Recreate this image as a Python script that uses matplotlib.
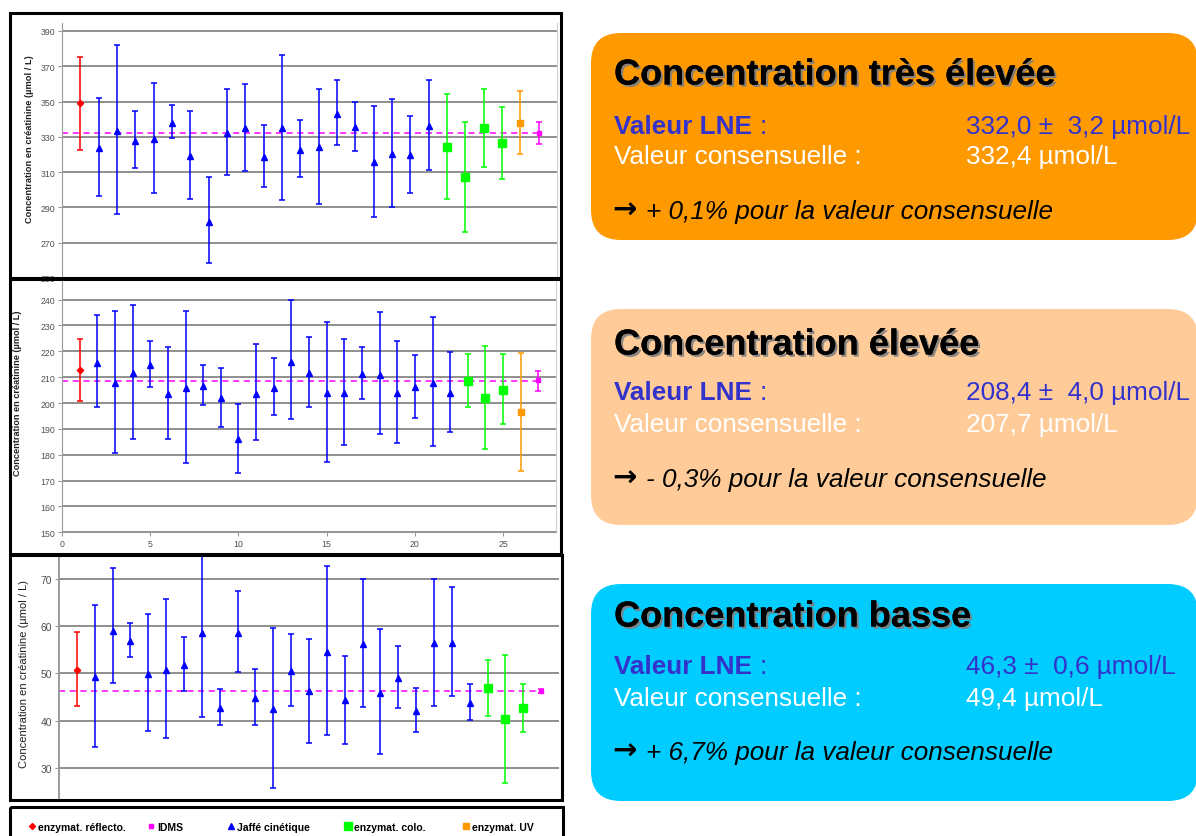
import matplotlib.pyplot as plt
import matplotlib.patheffects as pe
from matplotlib.patches import FancyBboxPatch, Rectangle
from matplotlib.lines import Line2D
import numpy as np

plt.rcParams['font.family'] = ['Liberation Sans', 'DejaVu Sans']

W, H = 1196, 837

# ---------------- data (centre, low end, high end of each interval)
# R = enzymat. réflecto., J = Jaffé cinétique, C = enzymat. colo.,
# U = enzymat. UV, I = IDMS
methods_hi = ['R'] + ['J'] * 19 + ['C'] * 4 + ['U', 'I']
centre_hi = [349.1, 323.5, 333.3, 327.9, 328.8, 338.0, 319.0, 282.0, 332.4, 334.8,
             318.3, 334.8, 322.6, 324.1, 342.9, 335.4, 315.5, 320.3, 319.6, 335.9,
             324.5, 307.0, 335.0, 326.3, 338.0, 332.0]
low_hi = [322.4, 296.5, 286.0, 312.3, 298.3, 329.5, 294.6, 258.3, 308.5, 310.4,
          301.4, 294.2, 307.0, 292.0, 325.6, 322.0, 284.5, 290.3, 298.3, 311.0,
          294.6, 275.8, 313.0, 306.2, 320.5, 325.8]
high_hi = [375.4, 352.1, 382.3, 344.5, 360.3, 347.9, 344.9, 307.0, 357.3, 360.0,
           336.5, 376.1, 339.3, 357.2, 362.0, 349.6, 347.6, 351.5, 342.0, 362.4,
           354.5, 338.6, 357.3, 346.8, 355.8, 338.6]
lne_hi = 332.0

methods_mid = ['R'] + ['J'] * 21 + ['C'] * 3 + ['U', 'I']
centre_mid = [212.7, 215.6, 207.8, 211.6, 214.7, 203.6, 205.7, 206.6, 202.0, 186.0,
              203.6, 205.8, 216.0, 211.5, 203.8, 203.8, 211.2, 211.0, 203.8, 206.1,
              207.8, 203.8, 208.5, 202.1, 205.2, 196.4, 208.8]
low_mid = [200.8, 198.5, 180.8, 186.0, 206.1, 186.2, 176.8, 199.1, 190.6, 173.1,
           185.7, 195.3, 193.7, 198.6, 177.3, 183.8, 201.6, 187.9, 184.6, 194.2,
           183.5, 188.9, 198.5, 182.4, 192.0, 173.7, 204.5]
high_mid = [224.7, 234.1, 235.5, 237.9, 223.9, 221.6, 235.5, 214.7, 213.7, 199.8,
            222.9, 217.3, 239.7, 225.4, 231.2, 224.7, 221.8, 235.1, 224.1, 218.6,
            233.2, 219.9, 219.1, 222.1, 218.9, 219.5, 212.5]
lne_mid = 208.4

methods_lo = ['R'] + ['J'] * 22 + ['C'] * 3 + ['I']
centre_lo = [50.8, 49.2, 58.9, 56.8, 49.9, 50.7, 51.7, 58.5, 42.7, 58.5,
             44.8, 42.4, 50.5, 46.2, 54.6, 44.3, 56.2, 45.9, 49.0, 42.1,
             56.4, 56.5, 43.8, 46.9, 40.3, 42.7, 46.3]
low_lo = [43.1, 34.4, 47.9, 53.5, 37.9, 36.3, 46.3, 40.9, 39.1, 50.3,
          39.2, 25.8, 43.1, 35.4, 37.0, 35.1, 43.0, 33.0, 42.6, 37.7,
          43.1, 45.3, 40.2, 41.0, 26.9, 37.7, 45.9]
high_lo = [58.7, 64.4, 72.2, 60.6, 62.6, 65.8, 57.8, 77.0, 46.8, 67.4,
           51.0, 59.5, 58.4, 57.3, 72.6, 53.7, 69.9, 59.4, 55.9, 46.9,
           69.9, 68.2, 47.8, 52.9, 54.0, 47.8, 46.7]
lne_lo = 46.3

legend_codes = ['R', 'I', 'J', 'C', 'U']
legend_labels = ['enzymat. réflecto.', 'IDMS', 'Jaffé cinétique', 'enzymat. colo.', 'enzymat. UV']
legend_x = [33, 152, 232, 349, 467]   # marker positions in pixels

box_titles = ['Concentration très élevée', 'Concentration élevée', 'Concentration basse']
box_lne = ['332,0 \u00b1  3,2 \u00b5mol/L', '208,4 \u00b1  4,0 \u00b5mol/L', '46,3 \u00b1  0,6 \u00b5mol/L']
box_cons = ['332,4 \u00b5mol/L', '207,7 \u00b5mol/L', '49,4 \u00b5mol/L']
box_diff = ['+ 0,1% pour la valeur consensuelle', '- 0,3% pour la valeur consensuelle',
            '+ 6,7% pour la valeur consensuelle']
box_colors = ['#FF9900', '#FFCC99', '#00CCFF']

STYLE = {
    'R': dict(color='#FF0000', marker='D', ms=3.2),
    'I': dict(color='#FF00FF', marker='s', ms=3.0),
    'J': dict(color='#0000FF', marker='^', ms=5.0),
    'C': dict(color='#00FF00', marker='s', ms=5.5),
    'U': dict(color='#FF9900', marker='s', ms=4.5),
}
YLABEL = 'Concentration en créatinine (\u00b5mol / L)'
GRID = '#8f8f8f'


def px_axes(fig, x0, y0, x1, y1, **kw):
    return fig.add_axes([x0 / W, 1 - y1 / H, (x1 - x0) / W, (y1 - y0) / H], **kw)


def draw_panel(ax, methods, centre, low, high, lne, xlim, ylim, yticks, fs):
    x = np.arange(1, len(centre) + 1)
    c, lo, hi = np.array(centre), np.array(low), np.array(high)
    meth = np.array(methods)
    ax.set_xlim(*xlim)
    ax.set_ylim(*ylim)
    ax.set_yticks(yticks)
    ax.grid(axis='y', color=GRID, lw=1.4)
    ax.set_axisbelow(True)
    # reference value, drawn up to the IDMS point
    ax.hlines(lne, xlim[0], x[-1], color='#FF00FF', ls=(0, (4, 3)), lw=1.1, zorder=2)
    for m, st in STYLE.items():
        sel = meth == m
        if not sel.any():
            continue
        ax.errorbar(x[sel], c[sel], yerr=[c[sel] - lo[sel], hi[sel] - c[sel]],
                    fmt=st['marker'], color=st['color'], ms=st['ms'],
                    elinewidth=1.1, capsize=2.3, capthick=1.1, zorder=3)
    for s in ['top', 'bottom']:
        ax.spines[s].set_visible(False)
    ax.spines['left'].set_color('#9a9a9a')
    ax.spines['right'].set_color('#d0d0d0')
    ax.tick_params(axis='y', length=3, color='#9a9a9a', labelsize=fs, labelcolor='#505050', pad=2)
    ax.set_xticks([])


fig = plt.figure(figsize=(W / 100, H / 100), dpi=100)

# top panel (très élevée)
ax1 = px_axes(fig, 62, 24, 557, 279)
draw_panel(ax1, methods_hi, centre_hi, low_hi, high_hi, lne_hi,
           (0, 27), (250, 394.5), np.arange(250, 391, 20), 6.3)

# middle panel (élevée)
ax2 = px_axes(fig, 62, 282, 556, 533.3)
draw_panel(ax2, methods_mid, centre_mid, low_mid, high_mid, lne_mid,
           (0, 28), (150, 247.2), np.arange(150, 241, 10), 6.3)
ax2.spines['bottom'].set_visible(True)
ax2.spines['bottom'].set_color('#9a9a9a')
ax2.set_xticks(np.arange(0, 26, 5))
ax2.tick_params(axis='x', length=3, color='#9a9a9a', labelsize=6.3, labelcolor='#505050', pad=2)

# bottom panel (basse)
ax3 = px_axes(fig, 59, 557, 559, 799)
draw_panel(ax3, methods_lo, centre_lo, low_lo, high_lo, lne_lo,
           (0, 28), (23.7, 74.8), np.arange(30, 71, 10), 7.5)
ax3.spines['right'].set_visible(False)
ax3.spines['left'].set_linewidth(1.4)

# overlay for frames, labels and text boxes
ov = fig.add_axes([0, 0, 1, 1], zorder=10)
ov.set_xlim(0, W)
ov.set_ylim(H, 0)
ov.axis('off')
ov.patch.set_alpha(0)

for (x0, y0, x1, y1) in [(10, 14, 561, 279), (10, 280, 561, 555), (10, 556, 562, 801), (10, 808, 563, 850)]:
    ov.add_patch(Rectangle((x0, y0), x1 - x0, y1 - y0, fill=False, ec='black', lw=2.2))

ov.text(30, 139, YLABEL, rotation=90, ha='center', va='center', fontsize=6.7, fontweight='bold', color='#202020')
ov.text(18, 393, YLABEL, rotation=90, ha='center', va='center', fontsize=6.6, fontweight='bold', color='#202020')
ov.text(24, 674, YLABEL, rotation=90, ha='center', va='center', fontsize=8.0, color='#202020')

# legend, one entry per slot
for k, lab, xm in zip(legend_codes, legend_labels, legend_x):
    h = Line2D([], [], ls='none', marker=STYLE[k]['marker'], color=STYLE[k]['color'],
               ms=STYLE[k]['ms'] * 0.95)
    fig.legend([h], [lab], loc='center left', bbox_to_anchor=((xm - 5) / W, 1 - 828 / H),
               frameon=False, prop=dict(size=7.5, weight='bold'), handlelength=0.7,
               handletextpad=0.3, borderpad=0, borderaxespad=0)

# text boxes
shadow = [pe.withSimplePatchShadow(offset=(1.6, -1.6), shadow_rgbFace='#7f7f7f', alpha=0.9), pe.Normal()]
box_y = [(34, 241), (310, 526), (585, 802)]
title_y = [76, 346, 618]
lne_y = [127, 393, 667]
cons_y = [157, 425, 699]
diff_y = [212, 480, 753]
blue = '#3333CC'
fs = 18.8
for i, (y0, y1) in enumerate(box_y):
    ov.add_patch(FancyBboxPatch((591, y0), 607, y1 - y0,
                                boxstyle='round,pad=0,rounding_size=30',
                                fc=box_colors[i], ec='none'))
    ov.text(614, title_y[i], box_titles[i], fontsize=26, fontweight='bold', va='center',
            color='black', path_effects=shadow)
    ov.text(614, lne_y[i], 'Valeur LNE', fontsize=fs, fontweight='bold', color=blue, va='center')
    ov.text(760, lne_y[i], ':', fontsize=fs, color=blue, va='center')
    ov.text(966, lne_y[i], box_lne[i], fontsize=fs, color=blue, va='center')
    ov.text(614, cons_y[i], 'Valeur consensuelle :', fontsize=fs, color='white', va='center')
    ov.text(966, cons_y[i], box_cons[i], fontsize=fs, color='white', va='center')
    ov.text(612, diff_y[i] - 1, '\u2192', fontsize=21, fontweight='bold', color='black',
            va='center', family='DejaVu Sans')
    ov.text(646, diff_y[i], box_diff[i], fontsize=fs, style='italic', color='black', va='center')

fig.savefig('out.png', dpi=100)
